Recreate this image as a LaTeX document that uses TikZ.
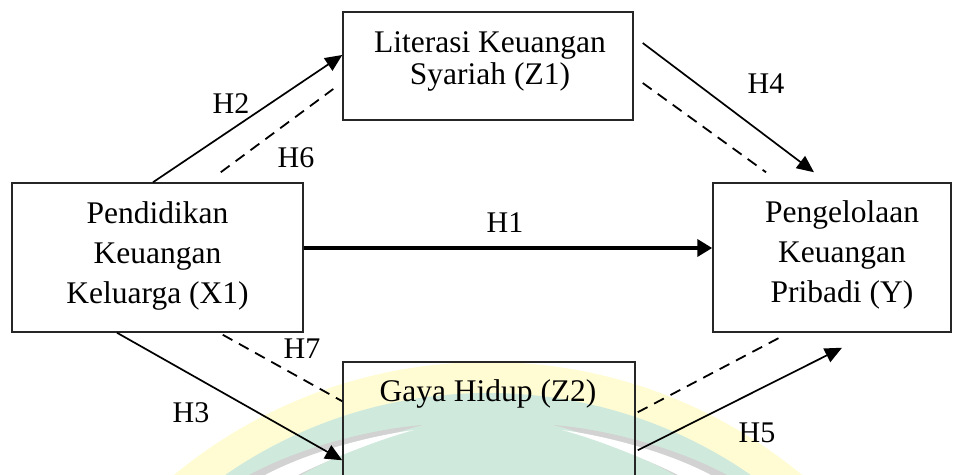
\documentclass[tikz,border=0pt]{standalone}
\usepackage{fontspec}
\setmainfont{Liberation Serif}
\usetikzlibrary{arrows.meta}
\definecolor{sealyellow}{RGB}{255,252,212}
\definecolor{sealgreen}{RGB}{207,234,220}
\definecolor{sealgrey}{RGB}{210,210,210}
\begin{document}
\begin{tikzpicture}[x=1pt,y=-1pt,
  varbox/.style={draw=black!85, line width=1.5pt, inner sep=0pt, rectangle},
  vartext/.style={font=\fontsize{31.5}{40}\selectfont, align=center, inner sep=0pt},
  hlabel/.style={font=\fontsize{30}{36}\selectfont, anchor=base, inner sep=0pt},
  effect/.style={line width=1.7pt, -{Triangle[length=17pt,width=15pt]}},
  mainpath/.style={line width=3.8pt, -{Triangle[length=15pt,width=17pt]}},
  indirect/.style={line width=1.8pt, dash pattern=on 11pt off 7.5pt}]
  \clip (0,0) rectangle (961,474);

  % faint seal in the background
  \fill[sealyellow] (488,855) circle [radius=493pt];
  \fill[sealgreen] (488,855) circle [radius=462pt];
  \fill[sealgrey] (423,425) .. controls (380,428) and (300,445) .. (240,480)
    -- (292,480) .. controls (330,458) and (385,434) .. (423,425) -- cycle;
  \fill[white] (414,430) .. controls (376,435) and (306,451) .. (256,480)
    -- (288,480) .. controls (326,460) and (380,439) .. (414,430) -- cycle;
  \fill[sealgrey] (553,425) .. controls (596,428) and (676,445) .. (736,480)
    -- (684,480) .. controls (646,458) and (591,434) .. (553,425) -- cycle;
  \fill[white] (562,430) .. controls (600,435) and (670,451) .. (720,480)
    -- (688,480) .. controls (650,460) and (596,439) .. (562,430) -- cycle;

  % variables
  \node[varbox, minimum width=291pt, minimum height=149pt] (x1) at (157.5,257.5) {};
  \node[varbox, minimum width=290pt, minimum height=108pt] (z1) at (488,66) {};
  \node[varbox, minimum width=238pt, minimum height=149pt] (y) at (832,257.5) {};
  \node[varbox, minimum width=292pt, minimum height=200pt] (z2) at (489,462) {};

  \node[vartext] (x1text) at (157.5,255.7) {Pendidikan\\Keuangan\\Keluarga (X1)};
  \node[vartext] (ytext) at (842,255) {Pengelolaan\\Keuangan\\Pribadi (Y)};
  \node[vartext, font=\fontsize{31.5}{32}\selectfont] (z1text) at (490,61.7) {Literasi Keuangan\\Syariah (Z1)};
  \node[vartext, anchor=base] (z2text) at (488,401) {Gaya Hidup (Z2)};

  % direct effects
  \draw[mainpath] ([yshift=9.5pt]x1.east) -- ([yshift=9.5pt]y.west);
  \draw[effect] ([xshift=-4.5pt]x1.north) -- ([yshift=11pt]z1.west);
  \draw[effect] ([xshift=-40.5pt]x1.south) -- ([yshift=-99pt]z2.north west);
  \draw[effect] ([xshift=9pt,yshift=23pt]z1.east) -- ([xshift=-18pt,yshift=10pt]y.north);
  \draw[effect] ([xshift=2pt,yshift=-89pt]z2.north east) -- ([xshift=10pt,yshift=-15pt]y.south);

  % mediated effects
  \draw[indirect] ([xshift=-83pt,yshift=10pt]x1.north east) -- ([xshift=-9pt,yshift=-23pt]z1.west);
  \draw[indirect] ([xshift=9pt,yshift=-17pt]z1.east) -- ([xshift=-66pt,yshift=10pt]y.north);
  \draw[indirect] ([xshift=-81pt,yshift=-2pt]x1.south east) -- ([yshift=-40pt]z2.north west);
  \draw[indirect] ([xshift=2pt,yshift=-51pt]z2.north east) -- ([xshift=-47pt,yshift=-2pt]y.south);

  % hypothesis labels
  \node[hlabel] (h1) at (505,232) {H1};
  \node[hlabel] (h2) at (231,113) {H2};
  \node[hlabel] (h3) at (191,422) {H3};
  \node[hlabel] (h4) at (766,93) {H4};
  \node[hlabel] (h5) at (757,442) {H5};
  \node[hlabel] (h6) at (296,167) {H6};
  \node[hlabel] (h7) at (302,358) {H7};
\end{tikzpicture}
\end{document}
